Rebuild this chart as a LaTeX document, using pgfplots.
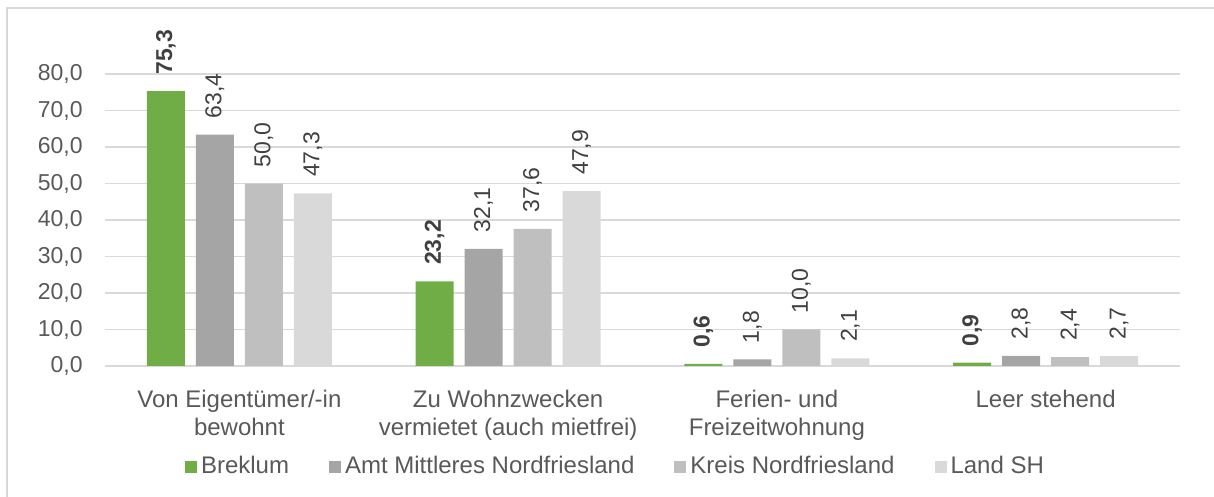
\documentclass[border=0pt]{standalone}
\usepackage{fontspec}
\setmainfont{Liberation Sans}
\usepackage{pgfplots}
\pgfplotsset{compat=1.18}

\definecolor{breklum}{HTML}{70AD47}
\definecolor{amt}{HTML}{A5A5A5}
\definecolor{kreis}{HTML}{BFBFBF}
\definecolor{land}{HTML}{D9D9D9}
\definecolor{gridc}{HTML}{D9D9D9}
\definecolor{txt}{HTML}{595959}
\definecolor{lbl}{HTML}{404040}

\newcommand{\chartfont}{\fontsize{11.5}{14}\selectfont}
\newcommand{\labelfont}{\fontsize{12}{14}\selectfont}

\begin{document}
\begin{tikzpicture}
\begin{axis}[
    scale only axis,
    width=537.5pt,
    height=146pt,
    ybar=5.5pt,
    bar width=19pt,
    xmin=-0.5, xmax=3.5,
    ymin=0, ymax=80,
    ytick={0,10,...,80},
    xtick={0,1,2,3},
    xticklabels={{Von Eigentümer/-in\\bewohnt},
                 {Zu Wohnzwecken\\vermietet (auch mietfrei)},
                 {Ferien- und\\Freizeitwohnung},
                 {Leer stehend}},
    xticklabel style={align=center, anchor=north, inner sep=0pt, yshift=-12pt,
                      font=\labelfont, text=txt},
    yticklabel style={anchor=east, inner sep=0pt, xshift=-11pt,
                      font=\chartfont, text=txt},
    major tick length=0pt,
    axis line style={draw=none},
    ymajorgrids,
    grid style={gridc, line width=0.9pt},
    /pgf/number format/.cd, fixed, fixed zerofill, precision=1, use comma,
        assume math mode=true,
    /pgfplots/.cd,
    clip=false,
    nodes near coords,
    every node near coord/.append style={rotate=90, anchor=west, inner sep=0pt,
        inner xsep=8pt, font=\chartfont, text=lbl},
    legend columns=4,
    legend style={at={(0.4758,-0.345)}, anchor=center, draw=none,
        font=\labelfont, text=txt,
        /tikz/every even column/.append style={column sep=18pt}},
    legend image code/.code={\fill[#1] (0pt,-3pt) rectangle (6pt,3pt);},
]
\addplot[fill=breklum, draw=none,
    every node near coord/.append style={font=\chartfont\bfseries}]
    coordinates {(0,75.3) (1,23.2) (2,0.6) (3,0.9)};
\addplot[fill=amt, draw=none] coordinates {(0,63.4) (1,32.1) (2,1.8) (3,2.8)};
\addplot[fill=kreis, draw=none] coordinates {(0,50.0) (1,37.6) (2,10.0) (3,2.4)};
\addplot[fill=land, draw=none] coordinates {(0,47.3) (1,47.9) (2,2.1) (3,2.7)};
\legend{Breklum, Amt Mittleres Nordfriesland, Kreis Nordfriesland, Land SH}
\end{axis}
\draw[gridc, line width=0.8pt] (-49pt,-70pt) -- (-49pt,179pt) -- (560pt,179pt);
\pgfresetboundingbox
\useasboundingbox (-52.5pt,-65.5pt) rectangle (554.5pt,183pt);
\end{tikzpicture}
\end{document}
